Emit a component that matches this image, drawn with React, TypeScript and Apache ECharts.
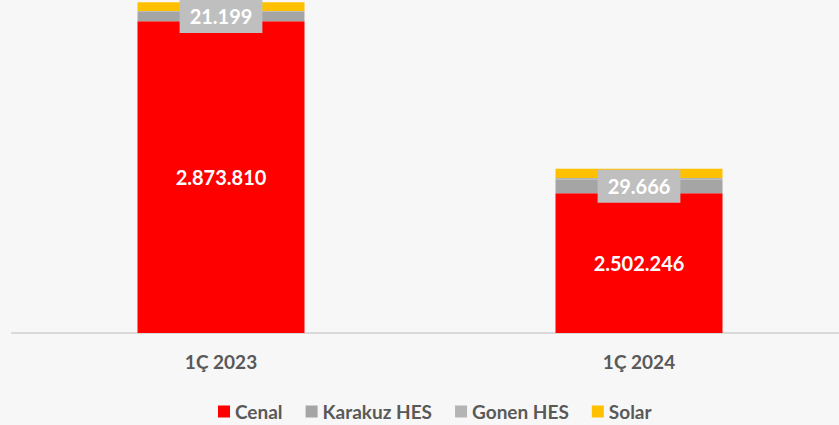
import React, { useEffect, useRef } from "react";
import * as echarts from "echarts";

const categories = ["1Ç 2023", "1Ç 2024"];
const cenal = [2873810, 2502246];
const karakuzHes = [21199, 29666];
const gonenHes = [1300, 3000];
const solar = [18800, 20000];

const fmt = (v: number) => String(Math.round(v)).replace(/\B(?=(\d{3})+(?!\d))/g, ".");

const FONT = "Lato, 'Open Sans', sans-serif";

export default function App() {
  const ref = useRef<HTMLDivElement>(null);
  useEffect(() => {
    if (!ref.current) return;
    const chart = echarts.init(ref.current, undefined, { renderer: "svg" });
    chart.setOption({
      animation: false,
      backgroundColor: "#f7f7f7",
      grid: { left: 12, top: 0, right: 0, height: 333, containLabel: false },
      legend: {
        top: 397,
        left: 213,
        icon: "rect",
        itemWidth: 12,
        itemHeight: 12,
        itemGap: 23,
        textStyle: { color: "#595959", fontSize: 19, fontWeight: "bold", fontFamily: FONT },
        data: ["Cenal", "Karakuz HES", "Gonen HES", "Solar"],
      },
      xAxis: {
        type: "category",
        data: categories,
        axisLine: { lineStyle: { color: "#d9d9d9", width: 2 } },
        axisTick: { show: false },
        axisLabel: { color: "#595959", fontSize: 19, fontWeight: "bold", fontFamily: FONT, margin: 19 },
      },
      yAxis: {
        type: "value",
        min: 2200000,
        max: 2920000,
        show: false,
        splitLine: { show: false },
      },
      series: [
        {
          name: "Cenal",
          type: "bar",
          stack: "total",
          barWidth: 167,
          data: cenal,
          itemStyle: { color: "#ff0000" },
          label: {
            show: true,
            position: "inside",
            color: "#ffffff",
            fontSize: 20,
            fontWeight: "bold",
            fontFamily: FONT,
            formatter: (p: any) => fmt(p.value),
          },
        },
        {
          name: "Karakuz HES",
          type: "bar",
          stack: "total",
          data: karakuzHes,
          itemStyle: { color: "#a5a5a5" },
          label: {
            show: true,
            position: "inside",
            color: "#ffffff",
            fontSize: 20,
            fontWeight: "bold",
            fontFamily: FONT,
            backgroundColor: "#bfbfbf",
            padding: [7, 10, 6, 10],
            formatter: (p: any) => fmt(p.value),
          },
          z: 3,
        },
        {
          name: "Gonen HES",
          type: "bar",
          stack: "total",
          data: gonenHes,
          itemStyle: { color: "#b4b4b4" },
        },
        {
          name: "Solar",
          type: "bar",
          stack: "total",
          data: solar,
          itemStyle: { color: "#ffc000" },
        },
      ],
    });
    return () => chart.dispose();
  }, []);
  return (
    <div style={{ position: "absolute", left: 0, top: 0, width: 839, height: 425, overflow: "hidden" }}>
      <div ref={ref} style={{ position: "absolute", left: 0, top: 0, width: 848, height: 425 }} />
    </div>
  );
}
